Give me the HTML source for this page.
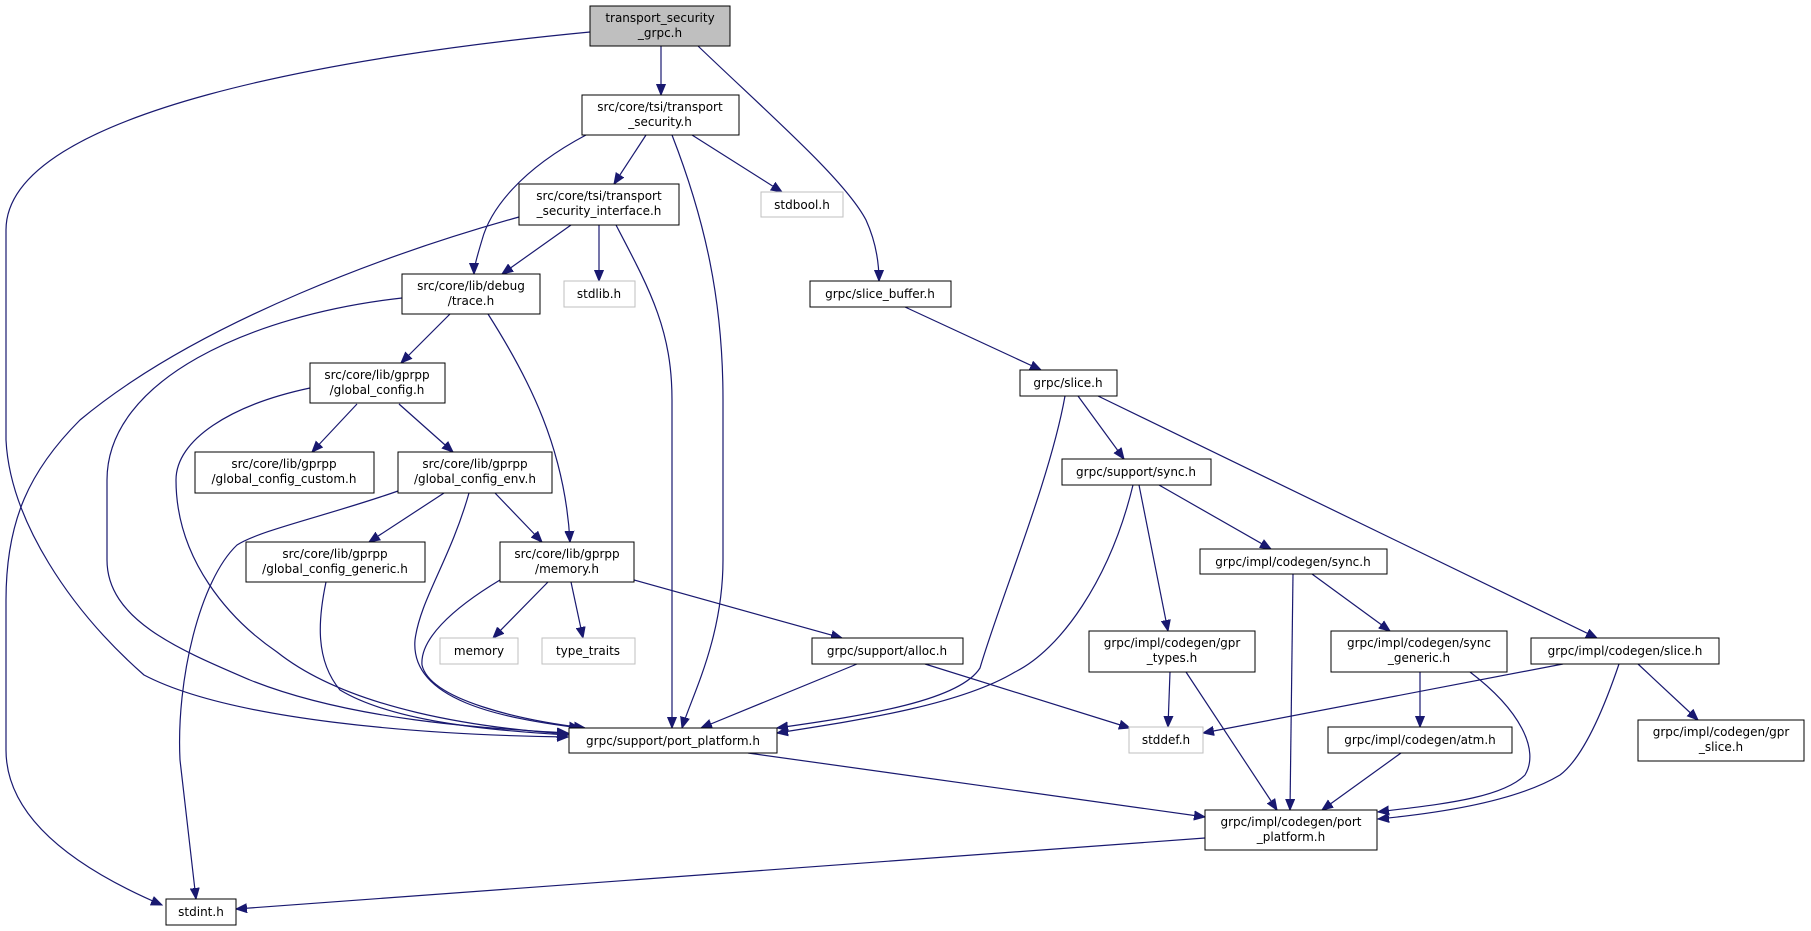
<!DOCTYPE html>
<html><head><meta charset="utf-8"><style>
html,body{margin:0;padding:0;background:#fff;}
svg{display:block;}
text{font-family:"DejaVu Sans","Liberation Sans",sans-serif;font-size:12px;fill:#000;text-anchor:middle;}
.e{fill:none;stroke:#191970;stroke-width:1.2;}
.n{fill:#fff;stroke:#000;stroke-width:1;}
.g{fill:#fff;stroke:#bfbfbf;stroke-width:1;}
</style></head><body>
<svg width="1811" height="931" viewBox="0 0 1811 931" xmlns="http://www.w3.org/2000/svg">
<defs><marker id="a" markerUnits="userSpaceOnUse" markerWidth="12" markerHeight="10" refX="11" refY="5" orient="auto"><path d="M0,0.5 L11,5 L0,9.5 z" fill="#191970" stroke="#191970"/></marker></defs>
<g marker-end="url(#a)">
<path class="e" d="M661,46 L661,95"/>
<path class="e" d="M698,46 C770,115 845,180 866,220 C876,242 879,262 879,281"/>
<path class="e" d="M590,32 C350,55 6,110 6,230 L6,440 C10,520 70,610 144,675 C230,720 420,735 568,737"/>
<path class="e" d="M519,217 C400,250 200,320 80,420 C30,470 6,520 6,600 L6,750 C6,820 80,870 162,905"/>
<path class="e" d="M646,135 L614,184"/>
<path class="e" d="M586,135 C520,170 490,210 482,240 C476,260 474,268 474,274"/>
<path class="e" d="M672,135 C705,220 723,300 723,400 L723,560 C723,640 690,700 682,728"/>
<path class="e" d="M692,135 L782,192"/>
<path class="e" d="M571,225 L502,274"/>
<path class="e" d="M599,225 L599,281"/>
<path class="e" d="M616,225 C650,290 672,330 672,400 L672,728"/>
<path class="e" d="M450,314 L401,363"/>
<path class="e" d="M488,314 C530,380 565,450 570,542"/>
<path class="e" d="M402,298 C250,315 107,380 107,480 L107,560 C107,620 180,650 250,680 C350,720 480,728 568,733"/>
<path class="e" d="M357,404 L312,452"/>
<path class="e" d="M399,404 L453,452"/>
<path class="e" d="M310,388 C230,405 176,440 176,480 C176,560 230,620 277,652 C350,710 480,728 568,734"/>
<path class="e" d="M444,493 L369,542"/>
<path class="e" d="M495,493 L542,542"/>
<path class="e" d="M469,493 C450,560 420,600 415,640 C410,700 500,718 580,728"/>
<path class="e" d="M398,491 C330,515 260,530 237,545 C200,580 176,680 180,760 L196,899"/>
<path class="e" d="M326,582 C318,620 315,660 340,690 C390,720 480,730 568,735"/>
<path class="e" d="M548,582 L493,638"/>
<path class="e" d="M571,582 L583,638"/>
<path class="e" d="M634,580 L842,638"/>
<path class="e" d="M500,580 C450,610 420,640 422,665 C430,700 520,720 585,728"/>
<path class="e" d="M857,664 L701,728"/>
<path class="e" d="M925,664 L1130,728"/>
<path class="e" d="M748,753 L1205,817"/>
<path class="e" d="M1205,838 L236,909"/>
<path class="e" d="M905,307 L1041,370"/>
<path class="e" d="M1065,396 C1050,480 1000,600 980,668 C960,700 870,715 777,728"/>
<path class="e" d="M1133,485 C1110,580 1060,650 1015,672 C960,705 860,720 777,733"/>
<path class="e" d="M1078,396 L1124,459"/>
<path class="e" d="M1098,396 L1597,638"/>
<path class="e" d="M1159,485 L1271,549"/>
<path class="e" d="M1139,485 L1168,631"/>
<path class="e" d="M1293,574 L1290,810"/>
<path class="e" d="M1312,574 L1390,631"/>
<path class="e" d="M1170,672 L1168,727"/>
<path class="e" d="M1186,672 L1277,810"/>
<path class="e" d="M1420,672 L1420,727"/>
<path class="e" d="M1470,672 C1520,710 1540,750 1525,775 C1500,800 1430,805 1378,812"/>
<path class="e" d="M1401,753 L1322,810"/>
<path class="e" d="M1563,664 L1203,733"/>
<path class="e" d="M1619,664 C1600,720 1580,760 1560,775 C1510,805 1420,815 1378,819"/>
<path class="e" d="M1638,664 L1698,720"/>
</g>
<rect x="590" y="6" width="140" height="40" fill="#bfbfbf" stroke="#000"/>
<text x="660" y="22">transport_security</text><text x="660" y="37">_grpc.h</text>
<rect class="n" x="582" y="95" width="157" height="40"/>
<text x="660" y="111">src/core/tsi/transport</text><text x="660" y="126">_security.h</text>
<rect class="g" x="761" y="192" width="82" height="25"/><text x="802" y="209">stdbool.h</text>
<rect class="n" x="519" y="184" width="160" height="41"/>
<text x="599" y="200">src/core/tsi/transport</text><text x="599" y="215">_security_interface.h</text>
<rect class="n" x="402" y="274" width="138" height="40"/>
<text x="471" y="290">src/core/lib/debug</text><text x="471" y="305">/trace.h</text>
<rect class="g" x="564" y="281" width="71" height="26"/><text x="599" y="298">stdlib.h</text>
<rect class="n" x="810" y="281" width="141" height="26"/><text x="880" y="298">grpc/slice_buffer.h</text>
<rect class="n" x="310" y="363" width="135" height="40"/>
<text x="377" y="379">src/core/lib/gprpp</text><text x="377" y="394">/global_config.h</text>
<rect class="n" x="195" y="452" width="179" height="41"/>
<text x="284" y="468">src/core/lib/gprpp</text><text x="284" y="483">/global_config_custom.h</text>
<rect class="n" x="398" y="452" width="154" height="41"/>
<text x="475" y="468">src/core/lib/gprpp</text><text x="475" y="483">/global_config_env.h</text>
<rect class="n" x="246" y="542" width="179" height="40"/>
<text x="335" y="558">src/core/lib/gprpp</text><text x="335" y="573">/global_config_generic.h</text>
<rect class="n" x="500" y="542" width="134" height="40"/>
<text x="567" y="558">src/core/lib/gprpp</text><text x="567" y="573">/memory.h</text>
<rect class="g" x="440" y="638" width="78" height="26"/><text x="479" y="655">memory</text>
<rect class="g" x="542" y="638" width="93" height="26"/><text x="588" y="655">type_traits</text>
<rect class="n" x="812" y="638" width="151" height="26"/><text x="887" y="655">grpc/support/alloc.h</text>
<rect class="n" x="569" y="728" width="208" height="25"/><text x="673" y="745">grpc/support/port_platform.h</text>
<rect class="n" x="166" y="899" width="70" height="26"/><text x="201" y="916">stdint.h</text>
<rect class="n" x="1020" y="370" width="97" height="26"/><text x="1068" y="387">grpc/slice.h</text>
<rect class="n" x="1062" y="459" width="149" height="26"/><text x="1136" y="476">grpc/support/sync.h</text>
<rect class="n" x="1200" y="549" width="187" height="25"/><text x="1293" y="566">grpc/impl/codegen/sync.h</text>
<rect class="n" x="1089" y="631" width="166" height="41"/>
<text x="1172" y="647">grpc/impl/codegen/gpr</text><text x="1172" y="662">_types.h</text>
<rect class="n" x="1331" y="631" width="176" height="41"/>
<text x="1419" y="647">grpc/impl/codegen/sync</text><text x="1419" y="662">_generic.h</text>
<rect class="n" x="1531" y="638" width="188" height="26"/><text x="1625" y="655">grpc/impl/codegen/slice.h</text>
<rect class="g" x="1129" y="727" width="74" height="26"/><text x="1166" y="744">stddef.h</text>
<rect class="n" x="1328" y="727" width="184" height="26"/><text x="1420" y="744">grpc/impl/codegen/atm.h</text>
<rect class="n" x="1638" y="720" width="166" height="41"/>
<text x="1721" y="736">grpc/impl/codegen/gpr</text><text x="1721" y="751">_slice.h</text>
<rect class="n" x="1205" y="810" width="172" height="40"/>
<text x="1291" y="826">grpc/impl/codegen/port</text><text x="1291" y="841">_platform.h</text>
</svg>
</body></html>
